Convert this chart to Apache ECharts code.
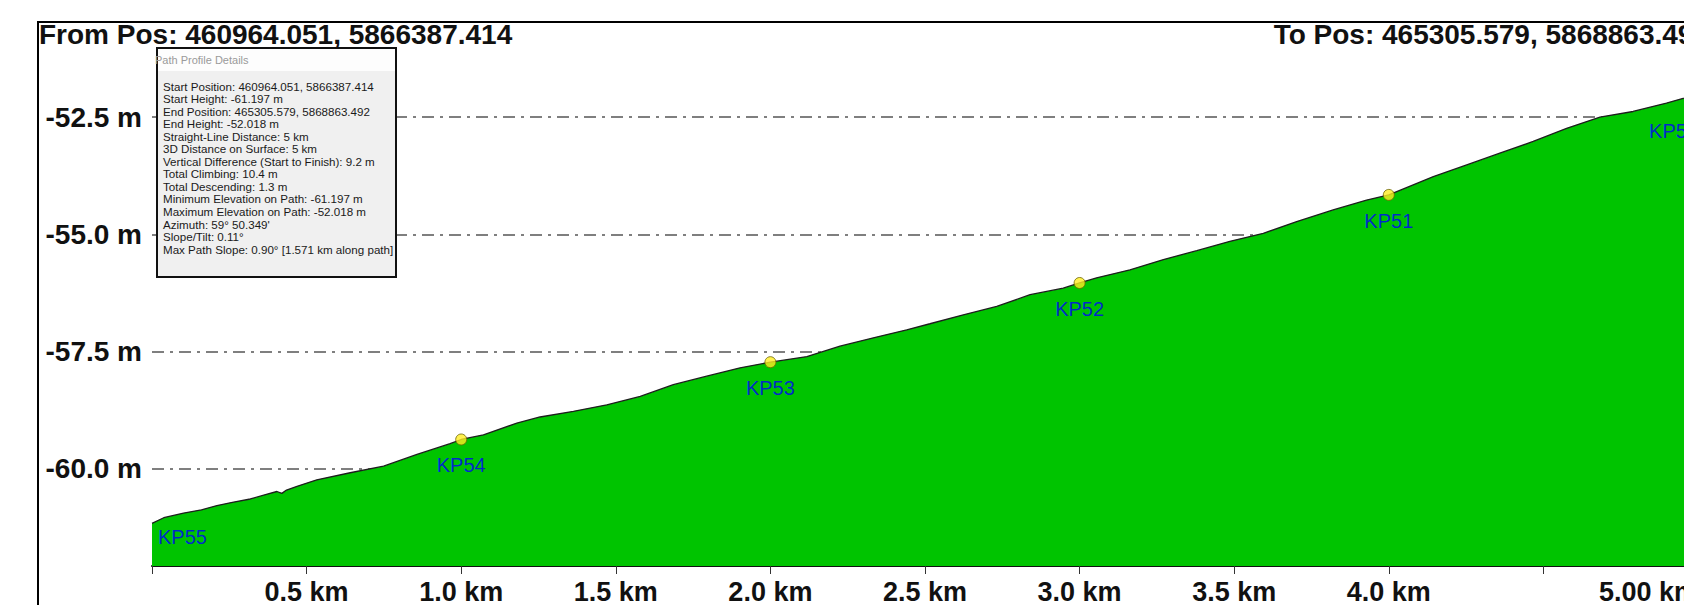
<!DOCTYPE html>
<html>
<head>
<meta charset="utf-8">
<title>Path Profile</title>
<script src="https://cdn.jsdelivr.net/npm/echarts@6/dist/echarts.min.js"></script>
<style>
  html, body { margin: 0; padding: 0; overflow: hidden; background: #fff; }
  /* the profile runs a little past the right edge of the window, like the screenshot */
  #chart { width: 1720px; height: 605px; }
</style>
</head>
<body>
<div id="chart"></div>
<script>
// profile along the path: distance (km) / elevation (m)
const distKm = [0, 0.038, 0.102, 0.16, 0.21, 0.26, 0.318, 0.37, 0.404, 0.42, 0.435, 0.469, 0.533, 0.641, 0.749, 0.857, 0.964, 1.0,
  1.072, 1.18, 1.255, 1.363, 1.471, 1.579, 1.686, 1.794, 1.902, 2.0, 2.118, 2.225, 2.333, 2.441, 2.516, 2.624, 2.732, 2.84,
  2.947, 3.0, 3.055, 3.163, 3.271, 3.379, 3.486, 3.594, 3.702, 3.82, 3.928, 4.0, 4.144, 4.252, 4.359, 4.467, 4.575, 4.683,
  4.79, 4.898, 4.952, 5.0]
const elevM = [-61.17, -61.05, -60.95, -60.88, -60.79, -60.72, -60.65, -60.55, -60.49, -60.53, -60.46, -60.38, -60.24, -60.09, -59.95, -59.7, -59.47, -59.38,
  -59.28, -59.03, -58.9, -58.78, -58.64, -58.46, -58.21, -58.03, -57.85, -57.73, -57.61, -57.39, -57.21, -57.04, -56.91, -56.72, -56.54, -56.29,
  -56.15, -56.04, -55.93, -55.76, -55.54, -55.35, -55.15, -54.98, -54.73, -54.48, -54.27, -54.16, -53.77, -53.52, -53.27, -53.02, -52.74, -52.5,
  -52.38, -52.2, -52.1, -52.02]

// KP markers
const kpNames = ['KP55', 'KP54', 'KP53', 'KP52', 'KP51', 'KP50']
const kpDist = [0, 1, 2, 3, 4, 5]
const kpElev = [-61.17, -59.38, -57.73, -56.04, -54.16, -52.02]

// axis ticks
const yTicks = [-60, -57.5, -55, -52.5]
const xTickStep = 0.5

const fromText = 'From Pos: 460964.051, 5866387.414'
const toText = 'To Pos: 465305.579, 5868863.492'

const detailLines = [
  'Start Position: 460964.051, 5866387.414',
  'Start Height: -61.197 m',
  'End Position: 465305.579, 5868863.492',
  'End Height: -52.018 m',
  'Straight-Line Distance: 5 km',
  '3D Distance on Surface: 5 km',
  'Vertical Difference (Start to Finish): 9.2 m',
  'Total Climbing: 10.4 m',
  'Total Descending: 1.3 m',
  'Minimum Elevation on Path: -61.197 m',
  'Maximum Elevation on Path: -52.018 m',
  'Azimuth: 59\u00b0 50.349\'',
  'Slope/Tilt: 0.11\u00b0',
  'Max Path Slope: 0.90\u00b0 [1.571 km along path]'
]

const FONT = 'Arial, "Liberation Sans", sans-serif'

const profile = distKm.map((d, i) => [d, elevM[i]])

const kpData = kpNames.map((name, i) => {
  const item = { name: name, value: [kpDist[i], kpElev[i]] }
  if (i === 0) {
    // start point: label only, tucked inside the fill
    item.symbolSize = 0
    item.label = { position: [6, 4], align: 'left', verticalAlign: 'top' }
  } else if (i === kpNames.length - 1) {
    item.label = { align: 'right', offset: [0, 10] }
  }
  return item
})

// popup box "Path Profile Details" (sits above the grid lines)
const boxX = 157, boxY = 48, boxW = 239, boxH = 229
const popup = [
  { type: 'rect', z: 100, shape: { x: boxX, y: boxY, width: boxW, height: boxH }, style: { fill: '#f0f0f0', stroke: '#111', lineWidth: 2 } },
  { type: 'rect', z: 101, shape: { x: boxX + 1, y: boxY + 1, width: boxW - 2, height: 22 }, style: { fill: '#fdfdfd' } },
  { type: 'text', z: 102, x: boxX - 2, y: boxY + 12, style: { text: 'Path Profile Details', fill: '#9a9a9a', font: '11px ' + FONT, verticalAlign: 'middle' } }
]
detailLines.forEach((line, i) => {
  popup.push({
    type: 'text', z: 102, x: boxX + 6, y: boxY + 38 + i * 12.55,
    style: { text: line, fill: '#1a1a1a', font: '11.6px ' + FONT, verticalAlign: 'middle' }
  })
})

const chart = echarts.init(document.getElementById('chart'), null, { renderer: 'svg' })

const option = {
  animation: false,
  backgroundColor: '#fff',
  grid: { left: 152, right: 22, top: 23.4, bottom: 38.3, containLabel: false },
  xAxis: {
    type: 'value',
    min: 0,
    max: 5,
    interval: xTickStep,
    axisLine: { show: true, lineStyle: { color: '#111', width: 2 } },
    axisTick: { show: true, length: 8, lineStyle: { color: '#333', width: 1 } },
    splitLine: { show: false },
    axisLabel: {
      color: '#111', fontSize: 27, fontWeight: 'bold', fontFamily: FONT, margin: 12,
      showMaxLabel: true, alignMaxLabel: 'right',
      formatter: v => {
        if (v === 0 || Math.abs(v - 4.5) < 1e-6) return ''
        if (v === 5) return '5.00 km'
        return v.toFixed(1) + ' km'
      }
    }
  },
  yAxis: {
    type: 'value',
    min: -62.08,
    max: -50.5,
    axisLine: { show: false },
    axisTick: { show: false, customValues: yTicks },
    splitLine: { show: true, lineStyle: { color: '#555', width: 1.5, type: [12, 6, 3, 6] } },
    axisLabel: {
      customValues: yTicks,
      color: '#111', fontSize: 28, fontWeight: 'bold', fontFamily: FONT, margin: 10,
      formatter: v => v.toFixed(1) + ' m'
    }
  },
  graphic: [
    { type: 'rect', z: 50, shape: { x: 38, y: 22, width: 1800, height: 700 }, style: { fill: null, stroke: '#000', lineWidth: 2 } },
    { type: 'text', z: 50, x: 39, y: 34, style: { text: fromText, font: 'bold 28px ' + FONT, fill: '#111', verticalAlign: 'middle' } },
    { type: 'text', z: 50, x: 1709, y: 34, style: { text: toText, font: 'bold 28px ' + FONT, fill: '#111', align: 'right', verticalAlign: 'middle' } }
  ].concat(popup),
  series: [
    {
      name: 'Profile',
      type: 'line',
      data: profile,
      showSymbol: false,
      lineStyle: { color: '#1e1e1e', width: 1.3 },
      areaStyle: { color: '#00c400', opacity: 1, origin: 'start' },
      z: 2
    },
    {
      name: 'KP',
      type: 'scatter',
      data: kpData,
      symbolSize: 11,
      itemStyle: { color: '#ffee22', borderColor: '#6b6400', borderWidth: 1 },
      label: {
        show: true, position: 'bottom', distance: 10, formatter: p => p.name,
        color: '#0000ff', fontSize: 20, fontFamily: FONT
      },
      z: 3
    }
  ]
}

chart.setOption(option)
</script>
</body>
</html>
